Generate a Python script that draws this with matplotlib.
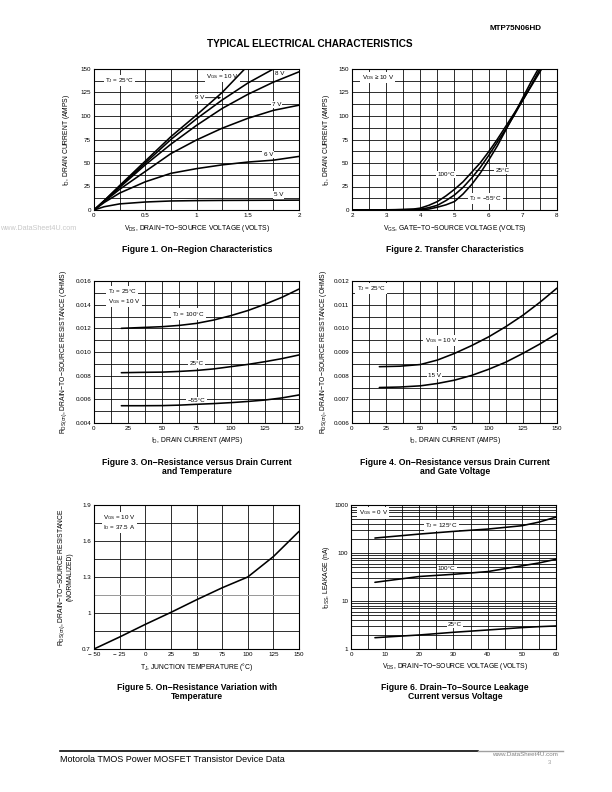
import numpy as np
import matplotlib.pyplot as plt

plt.rcParams['font.family'] = ['Liberation Sans', 'DejaVu Sans']
plt.rcParams['axes.unicode_minus'] = True

# Figure 1: on-region characteristics, ID (A) vs VDS (V)
f1_vds_10 = [0, 0.1, 0.25, 0.5, 0.75, 1.0, 1.25, 1.47]
f1_id_10 = [0, 10, 26, 52, 78, 101, 125, 150]
f1_vds_9 = [0, 0.1, 0.25, 0.5, 0.75, 1.0, 1.25, 1.5, 1.75]
f1_id_9 = [0, 10, 25, 50, 75, 97, 117, 135, 150]
f1_vds = [0, 0.1, 0.25, 0.5, 0.75, 1.0, 1.25, 1.5, 1.75, 2.0]
f1_id_8 = [0, 9.5, 24, 48, 70, 90, 108, 123, 136, 147]
f1_id_7 = [0, 9, 22, 41, 60, 74.5, 87, 97.5, 106, 111.5]
f1_id_6 = [0, 8, 18, 30, 39, 44, 48, 51, 53, 57]
f1_id_5 = [0, 3.5, 6.5, 8.5, 9.6, 10, 10.2, 10.3, 10.4, 10.5]

# Figure 2: transfer characteristics, ID (A) vs VGS (V)
f2_vgs_100 = [2, 3, 3.5, 3.8, 4, 4.25, 4.5, 4.75, 5, 5.25, 5.5, 5.75, 6, 6.25, 6.5, 6.75, 7, 7.25, 7.55]
f2_id_100 = [0, 0.2, 0.5, 1, 2, 5, 9, 15, 22, 30, 40, 50, 62, 75, 89, 103, 117, 132, 150]
f2_vgs_25 = [2, 3, 4, 4.25, 4.5, 4.75, 5, 5.25, 5.5, 5.75, 6, 6.25, 6.5, 6.75, 7, 7.25, 7.5]
f2_id_25 = [0, 0, 0.8, 2.5, 5, 10, 16, 24, 34, 45, 58, 72, 86, 101, 117, 133, 150]
f2_vgs_m55 = [2, 3, 4, 4.25, 4.5, 4.75, 5, 5.25, 5.5, 5.75, 6, 6.25, 6.5, 6.75, 7, 7.25, 7.45]
f2_id_m55 = [0, 0, 0.3, 1, 3, 5.5, 9, 17, 27, 39, 53, 68, 85, 102, 119.5, 137, 150]

# Figure 3: RDS(on) (ohm) vs ID (A) for three temperatures
f3_id = [20, 35, 50, 62.5, 75, 87.5, 100, 112.5, 125, 137.5, 150]
f3_r_100 = [0.0120, 0.01207, 0.01214, 0.01225, 0.01242, 0.01270, 0.01307, 0.01350, 0.01403, 0.01462, 0.01532]
f3_r_25 = [0.00825, 0.00828, 0.00830, 0.00836, 0.00844, 0.00857, 0.00876, 0.00895, 0.00918, 0.00944, 0.00975]
f3_r_m55 = [0.00546, 0.00546, 0.00547, 0.00551, 0.00558, 0.00564, 0.00572, 0.00582, 0.00594, 0.00612, 0.00637]

# Figure 4: RDS(on) (ohm) vs ID (A) for two gate voltages
f4_id = [20, 35, 50, 62.5, 75, 87.5, 100, 112.5, 125, 137.5, 150]
f4_r_10 = [0.00838, 0.00840, 0.00847, 0.00866, 0.00894, 0.00927, 0.00964, 0.01007, 0.01055, 0.01110, 0.01170]
f4_r_15 = [0.00750, 0.00752, 0.00757, 0.00767, 0.00781, 0.00801, 0.00827, 0.00857, 0.00894, 0.00934, 0.00978]

# Figure 5: normalized RDS(on) vs junction temperature
f5_tj = [-50, -25, 0, 25, 50, 75, 100, 125, 150]
f5_r = [0.70, 0.80, 0.905, 1.005, 1.11, 1.21, 1.30, 1.47, 1.68]

# Figure 6: IDSS leakage (nA) vs VDS (V)
f6_vds = [7, 20, 30, 40, 50, 55, 60]
f6_i_125 = [205, 248, 282, 315, 370, 440, 560]
f6_i_100 = [24.5, 32.4, 36, 41, 54, 62, 74]
f6_i_25 = [1.72, 1.96, 2.23, 2.49, 2.79, 2.92, 3.02]

W, H = 612, 792
fig = plt.figure(figsize=(W / 72, H / 72), dpi=72)

tickfs = 6.3   # tick labels and in-plot labels
axfs = 6.8     # axis titles
capfs = 8.6    # figure captions


def px(x, y):
    return x / W, 1 - y / H


def make_axes(left, top, right, bottom):
    return fig.add_axes([left / W, 1 - bottom / H, (right - left) / W, (bottom - top) / H])


def style(ax, xlim, ylim, xmaj, xmin, ymaj, ymin, xlab=None, ylab=None):
    ax.set_xlim(xlim)
    ax.set_ylim(ylim)
    ax.set_xticks(xmaj)
    ax.set_xticks(xmin, minor=True)
    ax.set_yticks(ymaj)
    ax.set_yticks(ymin, minor=True)
    if xlab is not None:
        ax.set_xticklabels(xlab)
    if ylab is not None:
        ax.set_yticklabels(ylab)
    ax.tick_params(which='both', length=0, labelsize=tickfs, pad=3)
    ax.grid(which='both', color='black', lw=0.8)
    ax.set_axisbelow(True)
    for s in ax.spines.values():
        s.set_linewidth(1.1)


def lab(ax, x, y, s, ha='center'):
    ax.text(x, y, s, ha=ha, va='center', fontsize=tickfs, zorder=3,
            bbox=dict(facecolor='white', edgecolor='none', pad=1.2))


curve = dict(color='black', lw=1.6, zorder=4, solid_capstyle='round')
sub = lambda a, b: a + r'$_{\mathregular{' + b + '}}$'

# ---- Figure 1 ----
ax1 = make_axes(94, 69, 299, 210)
ax1.plot(f1_vds_10, f1_id_10, **curve)
ax1.plot(f1_vds_9, f1_id_9, **curve)
ax1.plot(f1_vds, f1_id_8, **curve)
ax1.plot(f1_vds, f1_id_7, **curve)
ax1.plot(f1_vds, f1_id_6, **curve)
ax1.plot(f1_vds, f1_id_5, **curve)
style(ax1, (0, 2), (0, 150), [0, 0.5, 1, 1.5, 2], np.arange(0, 2.01, 0.25),
      np.arange(0, 151, 25), np.arange(0, 151, 12.5),
      ['0', '0.5', '1', '1.5', '2'])
lab(ax1, 0.25, 138, sub('T', 'J') + ' = 25°C')
lab(ax1, 1.255, 142, sub('V', 'GS') + ' = 10 V')
lab(ax1, 1.81, 145, '8 V')
lab(ax1, 1.78, 112.5, '7 V')
lab(ax1, 1.70, 59, '6 V')
lab(ax1, 1.80, 16, '5 V')
ax1.annotate('9 V', xy=(1.24, 119.5), xytext=(1.03, 119.5), ha='center', va='center',
             fontsize=tickfs, zorder=3,
             bbox=dict(facecolor='white', edgecolor='none', pad=1.2),
             arrowprops=dict(arrowstyle='-|>', lw=0.8, color='black', mutation_scale=5,
                             shrinkA=0, shrinkB=0))

# ---- Figure 2 ----
ax2 = make_axes(352, 69, 557, 210)
ax2.plot(f2_vgs_100, f2_id_100, **curve)
ax2.plot(f2_vgs_25, f2_id_25, **curve)
ax2.plot(f2_vgs_m55, f2_id_m55, **curve)
style(ax2, (2, 8), (0, 150), np.arange(2, 9, 1), np.arange(2, 8.01, 0.5),
      np.arange(0, 151, 25), np.arange(0, 151, 12.5))
lab(ax2, 2.75, 141, sub('V', 'DS') + ' ≥ 10 V')
lab(ax2, 4.76, 37.5, '100°C')
lab(ax2, 5.9, 12.5, sub('T', 'J') + ' = −55°C')
ax2.annotate('25°C', xy=(5.62, 42), xytext=(6.4, 42), ha='center', va='center',
             fontsize=tickfs, zorder=3,
             bbox=dict(facecolor='white', edgecolor='none', pad=1.2),
             arrowprops=dict(arrowstyle='-', lw=0.8, color='black', shrinkA=0, shrinkB=0))

# ---- Figure 3 ----
ax3 = make_axes(94, 281, 299, 423)
ax3.plot(f3_id, f3_r_100, **curve)
ax3.plot(f3_id, f3_r_25, **curve)
ax3.plot(f3_id, f3_r_m55, **curve)
style(ax3, (0, 150), (0.004, 0.016), np.arange(0, 151, 25), np.arange(0, 151, 12.5),
      np.arange(0.004, 0.01601, 0.002), np.arange(0.004, 0.01601, 0.001),
      ylab=['0.004', '0.006', '0.008', '0.010', '0.012', '0.014', '0.016'])
lab(ax3, 10, 0.0151, sub('T', 'J') + ' = 25°C', ha='left')
lab(ax3, 10, 0.01425, sub('V', 'GS') + ' = 10 V', ha='left')
lab(ax3, 69, 0.0132, sub('T', 'J') + ' = 100°C')
lab(ax3, 75, 0.0090, '25°C')
lab(ax3, 75, 0.0059, '−55°C')

# ---- Figure 4 ----
ax4 = make_axes(352, 281, 557, 423)
ax4.plot(f4_id, f4_r_10, **curve)
ax4.plot(f4_id, f4_r_15, **curve)
style(ax4, (0, 150), (0.006, 0.012), np.arange(0, 151, 25), np.arange(0, 151, 12.5),
      np.arange(0.006, 0.01201, 0.001), np.arange(0.006, 0.01201, 0.0005),
      ylab=['0.006', '0.007', '0.008', '0.009', '0.010', '0.011', '0.012'])
lab(ax4, 14, 0.01167, sub('T', 'J') + ' = 25°C')
lab(ax4, 65, 0.0095, sub('V', 'GS') + ' = 10 V')
lab(ax4, 60.5, 0.0080, '15 V')

# ---- Figure 5 ----
ax5 = make_axes(94, 505, 299, 649)
ax5.plot(f5_tj, f5_r, **curve)
style(ax5, (-50, 150), (0.7, 1.9), np.arange(-50, 151, 25), np.arange(-50, 151, 25),
      [0.7, 1.0, 1.3, 1.6, 1.9], np.arange(0.7, 1.901, 0.15),
      ['− 50', '− 25', '0', '25', '50', '75', '100', '125', '150'],
      ['0.7', '1', '1.3', '1.6', '1.9'])
ax5.axhline(1.15, color='#9a9a9a', lw=1.0, zorder=1.5)
lab(ax5, -41, 1.795, sub('V', 'GS') + ' = 10 V', ha='left')
lab(ax5, -41, 1.71, sub('I', 'D') + ' = 37.5 A', ha='left')

# ---- Figure 6 ----
ax6 = make_axes(351, 505, 556, 649)
ax6.plot(f6_vds, f6_i_125, **curve)
ax6.plot(f6_vds, f6_i_100, **curve)
ax6.plot(f6_vds, f6_i_25, **curve)
ax6.set_yscale('log')
minor6 = [m * d for d in (1, 10, 100) for m in range(2, 10)]
style(ax6, (0, 60), (1, 1000), np.arange(0, 61, 10), np.arange(0, 61, 5),
      [1, 10, 100, 1000], minor6, ylab=['1', '10', '100', '1000'])
ax6.tick_params(axis='y', which='minor', labelleft=False)
lab(ax6, 6.5, 680, sub('V', 'GS') + ' = 0 V')
lab(ax6, 26.5, 376, sub('T', 'J') + ' = 125°C')
lab(ax6, 28, 47, '100°C')
lab(ax6, 30.4, 3.27, '25°C')

# ---- axis titles ----
fig.text(*px(197, 228), sub('V', 'DS') + ', DRAIN−TO−SOURCE VOLTAGE (VOLTS)', ha='center', va='center', fontsize=axfs)
fig.text(*px(455, 228), sub('V', 'GS') + ', GATE−TO−SOURCE VOLTAGE (VOLTS)', ha='center', va='center', fontsize=axfs)
fig.text(*px(197, 441), sub('I', 'D') + ', DRAIN CURRENT (AMPS)', ha='center', va='center', fontsize=axfs)
fig.text(*px(455, 441), sub('I', 'D') + ', DRAIN CURRENT (AMPS)', ha='center', va='center', fontsize=axfs)
fig.text(*px(197, 667), sub('T', 'J') + ', JUNCTION TEMPERATURE (°C)', ha='center', va='center', fontsize=axfs)
fig.text(*px(455, 667), sub('V', 'DS') + ', DRAIN−TO−SOURCE VOLTAGE (VOLTS)', ha='center', va='center', fontsize=axfs)

fig.text(*px(67, 140), sub('I', 'D') + ', DRAIN CURRENT (AMPS)', rotation=90, ha='center', va='center', fontsize=axfs)
fig.text(*px(327, 140), sub('I', 'D') + ', DRAIN CURRENT (AMPS)', rotation=90, ha='center', va='center', fontsize=axfs)
fig.text(*px(64, 352), sub('R', 'DS(on)') + ', DRAIN−TO−SOURCE RESISTANCE (OHMS)', rotation=90, ha='center', va='center', fontsize=axfs)
fig.text(*px(324, 352), sub('R', 'DS(on)') + ', DRAIN−TO−SOURCE RESISTANCE (OHMS)', rotation=90, ha='center', va='center', fontsize=axfs)
fig.text(*px(65, 577), sub('R', 'DS(on)') + ', DRAIN−TO−SOURCE RESISTANCE\n(NORMALIZED)', rotation=90, ha='center', va='center', fontsize=axfs, linespacing=1.05)
fig.text(*px(327, 577), sub('I', 'DSS') + ', LEAKAGE (nA)', rotation=90, ha='center', va='center', fontsize=axfs)

# ---- captions ----
fig.text(*px(197, 249), 'Figure 1. On−Region Characteristics', ha='center', va='center', fontsize=capfs, weight='bold')
fig.text(*px(455, 249), 'Figure 2. Transfer Characteristics', ha='center', va='center', fontsize=capfs, weight='bold')
fig.text(*px(197, 467), 'Figure 3. On−Resistance versus Drain Current\nand Temperature', ha='center', va='center', fontsize=capfs, weight='bold', linespacing=1.1)
fig.text(*px(455, 467), 'Figure 4. On−Resistance versus Drain Current\nand Gate Voltage', ha='center', va='center', fontsize=capfs, weight='bold', linespacing=1.1)
fig.text(*px(197, 692), 'Figure 5. On−Resistance Variation with\nTemperature', ha='center', va='center', fontsize=capfs, weight='bold', linespacing=1.1)
fig.text(*px(455, 692), 'Figure 6. Drain−To−Source Leakage\nCurrent versus Voltage', ha='center', va='center', fontsize=capfs, weight='bold', linespacing=1.1)

# ---- page header / footer ----
fig.text(*px(516, 29), 'MTP75N06HD', ha='center', va='center', fontsize=8, weight='bold')
fig.text(*px(310, 44), 'TYPICAL ELECTRICAL CHARACTERISTICS', ha='center', va='center', fontsize=10, weight='bold')
fig.text(*px(0, 229), 'www.DataSheet4U.com', ha='left', va='center', fontsize=7.3, color='#c8c8c8')
fig.add_artist(plt.Line2D([60 / W, 478 / W], [1 - 751 / H] * 2, color='black', lw=1.6))
fig.add_artist(plt.Line2D([478 / W, 563 / W], [1 - 751 / H] * 2, color='#a0a0a0', lw=1.4))
fig.text(*px(60, 760), 'Motorola TMOS Power MOSFET Transistor Device Data', ha='left', va='center', fontsize=9)
fig.text(*px(525, 755), 'www.DataSheet4U.com', ha='center', va='center', fontsize=6.3, color='#808080')
fig.text(*px(549, 762), '3', ha='center', va='center', fontsize=6, color='#a0a0a0')

fig.savefig('out.png', dpi=72, facecolor='white')
